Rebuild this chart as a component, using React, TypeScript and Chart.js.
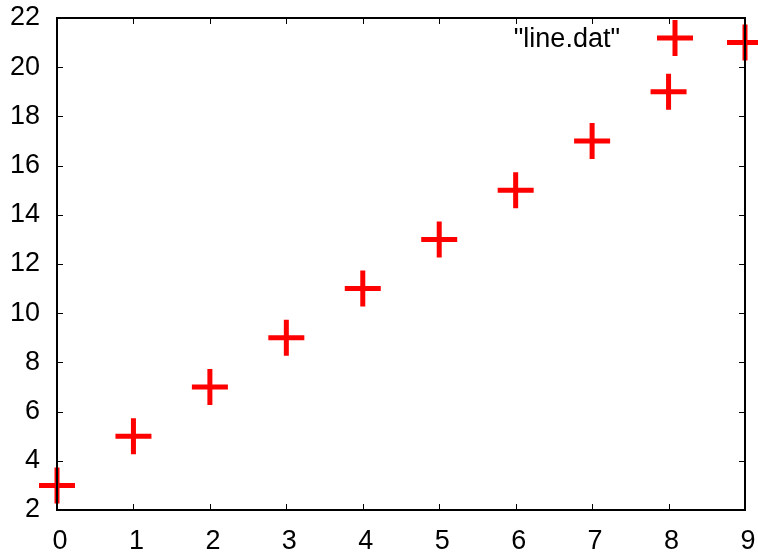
import React, { useEffect, useRef } from "react";
import { Chart, registerables } from "chart.js";

Chart.register(...registerables);

const xValues = [0, 1, 2, 3, 4, 5, 6, 7, 8, 9];
const yValues = [3, 5, 7, 9, 11, 13, 15, 17, 19, 21];
const xTicks = [0, 1, 2, 3, 4, 5, 6, 7, 8, 9];
const yTicks = [2, 4, 6, 8, 10, 12, 14, 16, 18, 20, 22];
const seriesLabel = '"line.dat"';

const FONT = "'Liberation Sans', Arial, Helvetica, sans-serif";

const framePlugin = {
  id: "frame",
  afterDatasetsDraw(chart: any) {
    const { ctx, chartArea: a, scales } = chart;
    const xs = scales.x;
    const ys = scales.y;
    ctx.save();
    ctx.strokeStyle = "#000";
    ctx.lineWidth = 1;
    const tl = 6;
    ctx.beginPath();
    for (const v of xTicks) {
      const px = Math.round(xs.getPixelForValue(v)) + 0.5;
      ctx.moveTo(px, a.bottom);
      ctx.lineTo(px, a.bottom - tl);
      ctx.moveTo(px, a.top);
      ctx.lineTo(px, a.top + tl);
    }
    for (const v of yTicks) {
      const py = Math.round(ys.getPixelForValue(v)) + 0.5;
      ctx.moveTo(a.left, py);
      ctx.lineTo(a.left + tl, py);
      ctx.moveTo(a.right, py);
      ctx.lineTo(a.right - tl, py);
    }
    ctx.stroke();
    ctx.lineWidth = 2;
    ctx.strokeRect(a.left, a.top, a.right - a.left, a.bottom - a.top);

    // legend
    ctx.fillStyle = "#000";
    ctx.font = `27px ${FONT}`;
    ctx.textAlign = "right";
    ctx.textBaseline = "middle";
    ctx.fillText(seriesLabel, a.right - 125, a.top + 22);
    ctx.strokeStyle = "#ff0000";
    ctx.lineWidth = 5;
    const cx = a.right - 70;
    const cy = a.top + 20;
    ctx.beginPath();
    ctx.moveTo(cx - 18, cy);
    ctx.lineTo(cx + 18, cy);
    ctx.moveTo(cx, cy - 18);
    ctx.lineTo(cx, cy + 18);
    ctx.stroke();
    ctx.restore();
  },
};

export default function App() {
  const ref = useRef<HTMLCanvasElement>(null);
  useEffect(() => {
    if (!ref.current) return;
    const chart = new Chart(ref.current, {
      type: "scatter",
      data: {
        datasets: [
          {
            label: seriesLabel,
            data: xValues.map((x, i) => ({ x, y: yValues[i] })),
            pointStyle: "cross",
            pointRadius: 18,
            pointHoverRadius: 18,
            borderColor: "#ff0000",
            backgroundColor: "#ff0000",
            pointBorderWidth: 5,
            borderWidth: 5,
            clip: false,
          } as any,
        ],
      },
      options: {
        animation: false,
        responsive: false,
        maintainAspectRatio: false,
        layout: { autoPadding: false, padding: { left: 0, top: 0, right: 0, bottom: 0 } },
        plugins: { legend: { display: false }, tooltip: { enabled: false } },
        events: [],
        scales: {
          x: {
            type: "linear",
            min: 0,
            max: 9,
            afterFit(scale: any) {
              scale.height = 48;
              scale.paddingRight = 13;
              scale.paddingLeft = 0;
            },
            afterBuildTicks(scale: any) {
              scale.ticks = xTicks.map((v) => ({ value: v }));
            },
            grid: { display: false, drawTicks: false },
            border: { display: false },
            ticks: {
              color: "#000",
              font: { size: 27, family: FONT },
              padding: 15,
              labelOffset: 3,
              maxRotation: 0,
            },
          },
          y: {
            type: "linear",
            min: 2,
            max: 22,
            afterFit(scale: any) {
              scale.width = 57;
              scale.paddingTop = 18;
              scale.paddingBottom = 0;
            },
            afterBuildTicks(scale: any) {
              scale.ticks = yTicks.map((v) => ({ value: v }));
            },
            grid: { display: false, drawTicks: false },
            border: { display: false },
            ticks: {
              color: "#000",
              font: { size: 27, family: FONT },
              padding: 17,
            },
          },
        },
      },
      plugins: [framePlugin],
    });
    return () => chart.destroy();
  }, []);
  return (
    <div style={{ position: "fixed", left: 0, top: 0, width: 758, height: 558, background: "#fff" }}>
      <canvas ref={ref} width={758} height={558} style={{ width: 758, height: 558 }} />
    </div>
  );
}
